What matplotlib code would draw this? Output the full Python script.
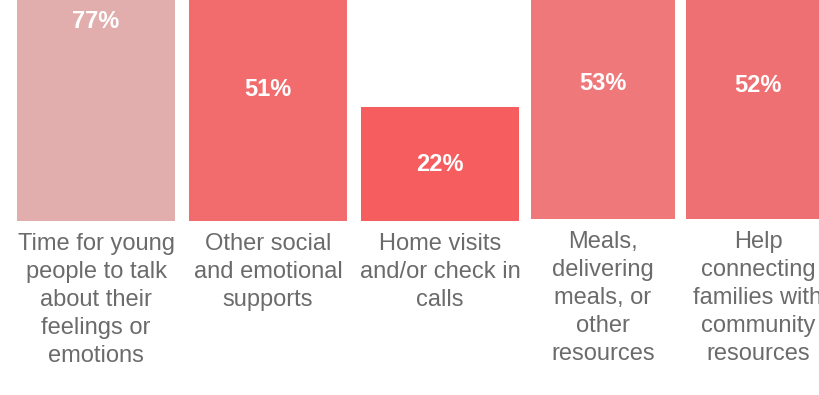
import matplotlib.pyplot as plt
import numpy as np

plt.rcParams['font.family'] = ['Liberation Sans', 'DejaVu Sans']

# supports offered, share of respondents (%)
categories_a = ['Time for young\npeople to talk\nabout their\nfeelings or\nemotions',
                'Other social\nand emotional\nsupports',
                'Home visits\nand/or check in\ncalls']
values_a = [77, 51, 22]

categories_b = ['Meals,\ndelivering\nmeals, or\nother\nresources',
                'Help\nconnecting\nfamilies with\ncommunity\nresources']
values_b = [53, 52]

colors_a = ['#e2adad', '#f26b6d', '#f65d5f']
colors_b = ['#ef797a', '#ef7073']

W, H = 819, 395
fig = plt.figure(figsize=(W/100, H/100), dpi=100)

# two panels side by side, the top of the tall bars runs off the canvas
ax1 = fig.add_axes([10/W, (H-221)/H, 516/W, 221/H])
ax2 = fig.add_axes([525.5/W, (H-219)/H, 310/W, 219/H])

def draw(ax, cats, vals, cols, width, ytop):
    x = np.arange(len(vals))
    ax.bar(x, vals, width=width, color=cols)
    for xi, v in zip(x, vals):
        ax.text(xi, v/2, f'{v}%', ha='center', va='center', color='white',
                fontsize=17, fontweight='bold')
    ax.set_xlim(-0.5, len(vals) - 0.5)
    ax.set_ylim(0, ytop)
    ax.set_xticks(x)
    ax.set_xticklabels(cats, fontsize=17, color='#6b6b6b', linespacing=1.35)
    ax.tick_params(axis='x', length=0, pad=8.5)
    ax.set_yticks([])
    for s in ax.spines.values():
        s.set_visible(False)

draw(ax1, categories_a, values_a, colors_a, 158/172, 42.7)
draw(ax2, categories_b, values_b, colors_b, 144/155, 42.7)

plt.savefig('out.png', dpi=100)
